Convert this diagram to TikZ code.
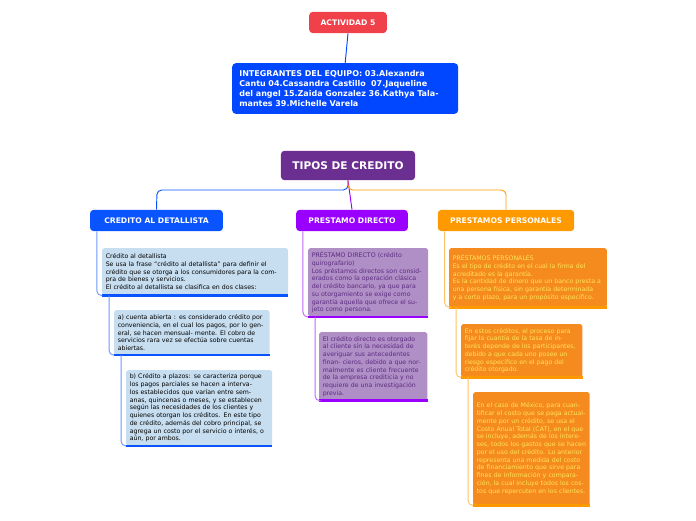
\documentclass[tikz,border=0pt]{standalone}
\usepackage{fontspec}
\setmainfont{DejaVu Sans}
\definecolor{actred}{rgb}{0.94,0.25,0.29}
\definecolor{teamblue}{rgb}{0.0,0.28,1.0}
\definecolor{rootpurple}{rgb}{0.42,0.18,0.57}
\definecolor{detblue}{rgb}{0.04,0.33,1.0}
\definecolor{dirpurple}{rgb}{0.6,0.0,1.0}
\definecolor{perorange}{rgb}{1.0,0.6,0.0}
\definecolor{lblue}{rgb}{0.78,0.87,0.94}
\definecolor{lpurple}{rgb}{0.69,0.56,0.78}
\definecolor{dpurpletxt}{rgb}{0.36,0.17,0.5}
\definecolor{lorange}{rgb}{0.96,0.54,0.12}
\definecolor{yellowtxt}{rgb}{1.0,0.9,0.35}
\tikzset{
    head/.style={rounded corners=3pt, text=white, font=\bfseries\fontsize{6.5}{8}\selectfont, minimum height=18pt, inner sep=3pt},
    leaf/.style={anchor=north west, rounded corners=1.5pt, align=left, font=\fontsize{5.3}{6.6}\selectfont, inner sep=3pt},
    link/.style={line width=0.8pt, rounded corners=4pt},
}
\begin{document}
\begin{tikzpicture}[x=0.85pt,y=-0.85pt]
    \useasboundingbox (0,0) rectangle (696,520);
    % headers
    \node[head, fill=actred, minimum width=66pt] (act) at (348,22.5) {ACTIVIDAD 5};
    \node[leaf, fill=teamblue, text=white, rounded corners=3pt, font=\bfseries\fontsize{6.8}{8.3}\selectfont, text width=180pt, minimum height=43pt, inner sep=6pt] (team) at (232,63)
        {INTEGRANTES DEL EQUIPO: 03.Alexandra Cantu 04.Cassandra Castillo~ 07.Jaqueline del angel 15.Zaida Gonzalez 36.Kathya Talamantes 39.Michelle Varela};
    \node[head, fill=rootpurple, font=\bfseries\fontsize{9}{11}\selectfont, minimum width=114pt, minimum height=25pt] (root) at (348,165.5) {TIPOS DE CREDITO};
    \node[head, fill=detblue, minimum width=113pt] (det) at (156.5,220.5) {CREDITO AL DETALLISTA};
    \node[head, fill=dirpurple, minimum width=95pt] (dir) at (352,220.5) {PRESTAMO DIRECTO};
    \node[head, fill=perorange, minimum width=116pt] (per) at (506,220.5) {PRESTAMOS PERSONALES};
    \draw[teamblue, line width=0.8pt] (act.south) -- (team.north);
    \draw[link, detblue] (root.south) |- (157,190) -- (det.north);
    \draw[link, dirpurple] (root.south) -- (dir.north);
    \draw[link, perorange] (root.south) |- (506,190) -- (per.north);
    % credito al detallista
    \node[leaf, fill=lblue, text width=152pt, minimum height=40pt] (b1) at (102,248) {Crédito al detallista\\Se usa la frase “crédito al detallista” para definir el crédito que se otorga a los consumidores para la compra de bienes y servicios.\\El crédito al detallista se clasifica en dos clases:};
    \node[leaf, fill=lblue, text width=126pt, minimum height=38pt] (b2) at (114,310) {a) cuenta abierta : es considerado crédito por conveniencia, en el cual los pagos, por lo general, se hacen mensual- mente. El cobro de servicios rara vez se efectúa sobre cuentas abiertas.};
    \node[leaf, fill=lblue, text width=118pt, minimum height=64pt] (b3) at (126,370) {b) Crédito a plazos: se caracteriza porque los pagos parciales se hacen a intervalos establecidos que varían entre semanas, quincenas o meses, y se establecen según las necesidades de los clientes y quienes otorgan los créditos. En este tipo de crédito, además del cobro principal, se agrega un costo por el servicio o interés, o aún, por ambos.};
    % prestamo directo
    \node[leaf, fill=lpurple, text=dpurpletxt, text width=96pt, minimum height=58pt] (p1) at (308,248) {PRÉSTAMO DIRECTO (crédito quirografario)\\Los préstamos directos son considerados como la operación clásica del crédito bancario, ya que para su otorgamiento se exige como garantía aquella que ofrece el sujeto como persona.};
    \node[leaf, fill=lpurple, text=dpurpletxt, text width=86pt, minimum height=58pt] (p2) at (319,332) {El crédito directo es otorgado al cliente sin la necesidad de averiguar sus antecedentes finan- cieros, debido a que normalmente es cliente frecuente de la empresa crediticia y no requiere de una investigación previa.};
    % prestamos personales
    \node[leaf, fill=lorange, text=yellowtxt, text width=128pt, minimum height=50pt] (o1) at (449,248) {PRÉSTAMOS PERSONALES\\Es el tipo de crédito en el cual la firma del acreditado es la garantía.\\Es la cantidad de dinero que un banco presta a una persona física, sin garantía determinada\\y a corto plazo, para un propósito específico.};
    \node[leaf, fill=lorange, text=yellowtxt, text width=97pt, minimum height=45pt] (o2) at (461,324) {En estos créditos, el proceso para fijar la cuantía de la tasa de interés depende de los participantes, debido a que cada uno posee un riesgo específico en el pago del crédito otorgado.};
    \node[leaf, fill=lorange, text=yellowtxt, text width=93pt, minimum height=96pt] (o3) at (473,392) {En el caso de México, para cuantificar el costo que se paga actualmente por un crédito, se usa el Costo Anual Total (CAT), en el que se incluye, además de los intereses, todos los gastos que se hacen por el uso del crédito. Lo anterior representa una medida del costo de financiamiento que sirve para fines de información y comparación, la cual incluye todos los costos que repercuten en los clientes.};
    % bars and branch lines
    \foreach \n/\c in {b1/detblue,b2/detblue,b3/detblue,p1/dirpurple,p2/dirpurple,o1/perorange,o2/perorange,o3/perorange}
        \draw[\c, line width=2.2pt] (\n.south west) -- (\n.south east);
    \draw[link, detblue!60] ([xshift=6pt]det.south west) |- (b1.south west);
    \draw[link, detblue!60] ([xshift=6pt]b1.south west) |- (b2.south west);
    \draw[link, detblue!60] ([xshift=6pt]b2.south west) |- (b3.south west);
    \draw[link, dirpurple!60] ([xshift=6pt]dir.south west) |- (p1.south west);
    \draw[link, dirpurple!60] ([xshift=6pt]p1.south west) |- (p2.south west);
    \draw[link, perorange!60] ([xshift=6pt]per.south west) |- (o1.south west);
    \draw[link, perorange!60] ([xshift=6pt]o1.south west) |- (o2.south west);
    \draw[link, perorange!60] ([xshift=6pt]o2.south west) |- (o3.south west);
\end{tikzpicture}
\end{document}
